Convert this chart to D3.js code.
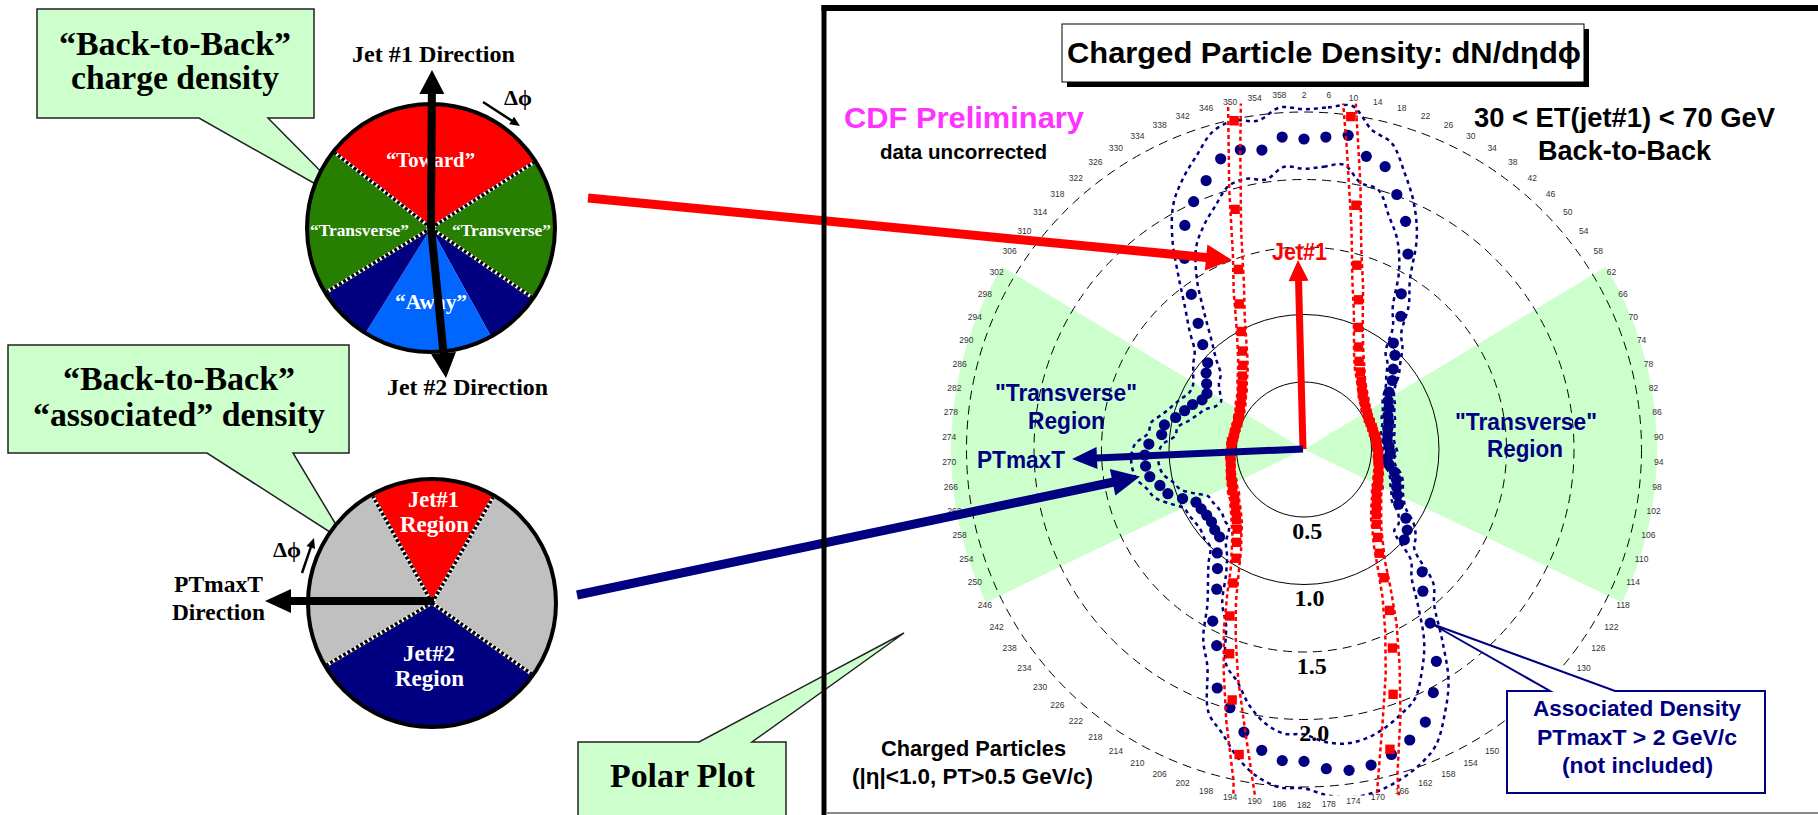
<!DOCTYPE html>
<html>
<head>
<meta charset="utf-8">
<script src="https://d3js.org/d3.v7.min.js"></script>
<style>
  body { margin: 0; background: #fff; }
  svg { display: block; }
</style>
</head>
<body>
<script>
/* ------------------------------- chart data ------------------------------- */
// azimuth bins (deg), one label every 4 deg
const phiLabels = [2,6,10,14,18,22,26,30,34,38,42,46,50,54,58,62,66,70,74,78,
  82,86,90,94,98,102,106,110,114,118,122,126,130,134,138,142,146,150,154,158,
  162,166,170,174,178,182,186,190,194,198,202,206,210,214,218,222,226,230,234,238,
  242,246,250,254,258,262,266,270,274,278,282,286,290,294,298,302,306,310,314,318,
  322,326,330,334,338,342,346,350,354,358];

// associated density (blue dots)
const assocDensity = [2.30,2.32,2.35,2.22,2.18,2.01,1.85,1.64,1.36,1.22,
  1.03,0.97,0.89,0.83,0.76,0.72,0.70,0.67,0.66,0.64,
  0.63,0.62,0.63,0.64,0.62,0.64,0.69,0.72,0.74,0.77,
  0.81,0.91,0.97,1.00,1.26,1.37,1.59,1.85,2.04,2.21,
  2.29,2.35,2.39,2.40,2.37,2.31,2.31,2.25,2.14,1.99,
  1.88,1.59,1.44,1.22,1.09,1.00,0.90,0.89,0.87,0.87,
  0.88,0.89,0.97,1.06,1.10,1.16,1.18,1.18,1.15,1.06,
  1.05,0.98,0.93,0.89,0.84,0.83,0.87,0.92,0.96,1.08,
  1.22,1.42,1.67,1.88,2.01,2.12,2.24,2.27,2.24,2.32];
const assocErr = [.22,.22,.22,.20,.18,.17,.15,.14,.12,.10,
  .09,.08,.07,.06,.05,.05,.05,.05,.05,.05,
  .05,.05,.05,.05,.05,.05,.05,.05,.05,.05,
  .06,.07,.08,.10,.12,.13,.15,.17,.18,.19,
  .20,.20,.20,.20,.20,.20,.20,.20,.20,.20,
  .19,.17,.15,.13,.12,.10,.10,.10,.10,.10,
  .10,.10,.10,.10,.10,.10,.10,.10,.10,.10,
  .10,.10,.10,.10,.11,.12,.12,.12,.13,.14,
  .15,.16,.17,.18,.19,.20,.21,.22,.22,.22];

// charged particle density (red squares)
const chgDensity = [6.0,4.0,2.49,1.85,1.42,1.18,0.99,0.86,0.77,0.71,
  0.66,0.62,0.59,0.57,0.55,0.54,0.53,0.53,0.53,0.53,
  0.54,0.54,0.54,0.55,0.55,0.56,0.57,0.58,0.59,0.61,
  0.62,0.65,0.68,0.72,0.77,0.85,0.95,1.12,1.35,1.61,
  1.93,2.31,3.2,4.5,6.5,6.5,4.5,3.2,2.31,1.93,
  1.61,1.35,1.12,0.95,0.85,0.77,0.72,0.68,0.65,0.62,
  0.61,0.59,0.58,0.57,0.56,0.55,0.55,0.54,0.54,0.54,
  0.53,0.53,0.53,0.53,0.54,0.55,0.57,0.59,0.62,0.66,
  0.71,0.77,0.86,0.99,1.18,1.42,1.85,2.49,4.0,6.0];
const chgErr = [1.0,0.7,0.22,0.16,0.12,0.10,0.08,0.07,0.06,0.05,
  0.04,0.04,0.04,0.035,0.035,0.03,0.03,0.03,0.03,0.03,
  0.03,0.03,0.03,0.03,0.03,0.03,0.03,0.035,0.035,0.04,
  0.04,0.04,0.045,0.05,0.055,0.06,0.07,0.09,0.11,0.13,
  0.16,0.2,0.6,0.8,1.0,1.0,0.8,0.6,0.2,0.16,
  0.13,0.11,0.09,0.07,0.06,0.055,0.05,0.045,0.04,0.04,
  0.04,0.035,0.035,0.03,0.03,0.03,0.03,0.03,0.03,0.03,
  0.03,0.03,0.03,0.03,0.035,0.035,0.04,0.04,0.04,0.05,
  0.05,0.06,0.07,0.08,0.10,0.12,0.16,0.22,0.7,1.0];

const rTicks = [0.5, 1.0, 1.5, 2.0, 2.5];
const rTickLabels = ["0.5", "1.0", "1.5", "2.0"];

/* ------------------------------- svg setup -------------------------------- */
const width = 1818, height = 815;
const svg = d3.select("body").append("svg").attr("width", width).attr("height", height);
svg.append("rect").attr("width", width).attr("height", height).attr("fill", "#fff");

const SERIF = "'Liberation Serif','Times New Roman',serif";
const SANS = "'Liberation Sans',Arial,sans-serif";
const NAVY = "#000080";
const rad = d => d * Math.PI / 180;

function text(g, s, x1, x2, y, size, family, fill) {
  return g.append("text")
    .attr("x", (x1 + x2) / 2).attr("y", y)
    .attr("text-anchor", "middle")
    .attr("font-family", family).attr("font-weight", "bold")
    .attr("font-size", size).attr("fill", fill)
    .attr("textLength", x2 - x1).attr("lengthAdjust", "spacingAndGlyphs")
    .text(s);
}

// block arrow as a polygon
function arrow(g, x1, y1, x2, y2, sw, hl, hw, fill) {
  const L = Math.hypot(x2 - x1, y2 - y1), ux = (x2 - x1) / L, uy = (y2 - y1) / L;
  const nx = -uy, ny = ux, bx = x2 - ux * hl, by = y2 - uy * hl;
  const p = [[x1 + nx * sw / 2, y1 + ny * sw / 2], [bx + nx * sw / 2, by + ny * sw / 2],
    [bx + nx * hw / 2, by + ny * hw / 2], [x2, y2], [bx - nx * hw / 2, by - ny * hw / 2],
    [bx - nx * sw / 2, by - ny * sw / 2], [x1 - nx * sw / 2, y1 - ny * sw / 2]];
  g.append("path").attr("d", "M" + p.join("L") + "Z").attr("fill", fill);
}

// callout box with pointer
function callout(g, x0, y0, x1, y1, side, pa, pb, tip, fill, stroke, sw) {
  let d;
  if (side === "bottom")
    d = `M${x0},${y0}H${x1}V${y1}H${pb}L${tip[0]},${tip[1]}L${pa},${y1}H${x0}Z`;
  else
    d = `M${x0},${y1}V${y0}H${pa}L${tip[0]},${tip[1]}L${pb},${y0}H${x1}V${y1}Z`;
  g.append("path").attr("d", d).attr("fill", fill).attr("stroke", stroke).attr("stroke-width", sw);
}

/* ------------------------------- polar plot ------------------------------- */
const cx = 1304, cy = 449.5, rot = -2;
const r = d3.scaleLinear().domain([0, 2.5]).range([0, 337.5]);
const ang = L => rad(L + rot);
const pol = svg.append("g").attr("transform", `translate(${cx},${cy})`);

// transverse regions
const wedge = d3.arc().innerRadius(0).outerRadius(353);
[[58.8, 115.7], [244.3, 301.2]].forEach(w =>
  pol.append("path").attr("d", wedge({ startAngle: rad(w[0]), endAngle: rad(w[1]) }))
    .attr("fill", "#ccffcc"));

// radial grid
pol.selectAll(".grid").data(rTicks).enter().append("circle")
  .attr("r", d => r(d)).attr("fill", "none").attr("stroke", "#000").attr("stroke-width", 1)
  .attr("stroke-dasharray", d => d > 1 ? "9,6" : null);

// angle labels
pol.selectAll(".alab").data(phiLabels).enter().append("text")
  .attr("x", d => 355 * Math.sin(ang(d))).attr("y", d => -355 * Math.cos(ang(d)))
  .attr("text-anchor", "middle").attr("dominant-baseline", "central")
  .attr("font-family", SANS).attr("font-size", 8.5).attr("fill", "#333")
  .text(d => d);

// data
const rows = phiLabels.map((L, i) => ({ L, b: assocDensity[i], be: assocErr[i], c: chgDensity[i], ce: chgErr[i] }));
svg.append("clipPath").attr("id", "clipPolar").append("rect")
  .attr("x", -360).attr("y", -346).attr("width", 720).attr("height", 692);
const data = pol.append("g").attr("clip-path", "url(#clipPolar)");

const band = (f, curve) => d3.lineRadial().angle(d => ang(d.L)).radius(d => r(f(d))).curve(curve);
[d => d.b - d.be, d => d.b + d.be].forEach(f =>
  data.append("path").attr("d", band(f, d3.curveCatmullRomClosed)(rows))
    .attr("fill", "none").attr("stroke", NAVY).attr("stroke-width", 2.5).attr("stroke-dasharray", "4,4"));

data.selectAll(".dot").data(rows).enter().append("circle")
  .attr("cx", d => r(d.b) * Math.sin(ang(d.L))).attr("cy", d => -r(d.b) * Math.cos(ang(d.L)))
  .attr("r", 5.6).attr("fill", NAVY);

[d => d.c - d.ce, d => d.c + d.ce].forEach(f =>
  data.append("path").attr("d", band(f, d3.curveLinearClosed)(rows))
    .attr("fill", "none").attr("stroke", "#ff0000").attr("stroke-width", 2.5).attr("stroke-dasharray", "4,3"));

const sq = d3.symbol().type(d3.symbolSquare).size(88);
data.selectAll(".sq").data(rows).enter().append("path")
  .attr("d", sq)
  .attr("transform", d => `translate(${r(d.c) * Math.sin(ang(d.L))},${-r(d.c) * Math.cos(ang(d.L))})`)
  .attr("fill", "#ff0000");

// radial tick labels along the 178 deg direction
pol.selectAll(".rlab").data(rTickLabels).enter().append("text")
  .attr("x", (d, i) => (r(rTicks[i]) + 22) * Math.sin(rad(178)))
  .attr("y", (d, i) => -(r(rTicks[i]) + 22) * Math.cos(rad(178)))
  .attr("text-anchor", "middle").attr("font-family", SERIF).attr("font-weight", "bold")
  .attr("font-size", 24).text(d => d);

// jet and PTmaxT arrows
arrow(svg, 1303, 449, 1298, 260, 7, 21, 20, "#ff0000");
arrow(svg, 1303, 449, 1072, 459, 7, 25, 22, NAVY);

// polar texts
text(svg, "Jet#1", 1272, 1327, 260, 24, SANS, "#ff0000");
text(svg, "\"Transverse\"", 995, 1137, 401, 23, SANS, NAVY);
text(svg, "Region", 1028, 1105, 429, 23, SANS, NAVY);
text(svg, "PTmaxT", 977, 1065, 468, 23, SANS, NAVY);
text(svg, "\"Transverse\"", 1455, 1597, 430, 23, SANS, NAVY);
text(svg, "Region", 1487, 1563, 457, 23, SANS, NAVY);

// title box
svg.append("rect").attr("x", 1067).attr("y", 29).attr("width", 522).attr("height", 58).attr("fill", "#000");
svg.append("rect").attr("x", 1062).attr("y", 24).attr("width", 522).attr("height", 58)
  .attr("fill", "#fff").attr("stroke", "#000").attr("stroke-width", 1);
text(svg, "Charged Particle Density: dN/dηdϕ", 1067, 1581, 63, 30, SANS, "#000");

text(svg, "CDF Preliminary", 844, 1084, 128, 29, SANS, "#ff33ff");
text(svg, "data uncorrected", 880, 1047, 159, 21, SANS, "#000");
text(svg, "30 < ET(jet#1) < 70 GeV", 1474, 1775, 127, 28, SANS, "#000");
text(svg, "Back-to-Back", 1538, 1711, 160, 28, SANS, "#000");
text(svg, "Charged Particles", 881, 1066, 756, 22, SANS, "#000");
text(svg, "(|η|<1.0, PT>0.5 GeV/c)", 852, 1093, 784, 22, SANS, "#000");

// associated density box
callout(svg, 1507, 691, 1765, 793, "top", 1550, 1615, [1432, 624], "#fff", NAVY, 2);
text(svg, "Associated Density", 1533, 1741, 716, 22, SANS, NAVY);
text(svg, "PTmaxT > 2 GeV/c", 1537, 1737, 745, 22, SANS, NAVY);
text(svg, "(not included)", 1562, 1713, 773, 22, SANS, NAVY);

/* ------------------------------- left panel ------------------------------- */
// top callout
callout(svg, 37, 9, 314, 118, "bottom", 199, 268, [356, 207], "#ccffcc", "#222", 1.5);
text(svg, "“Back-to-Back”", 59, 291, 55, 34, SERIF, "#000");
text(svg, "charge density", 71, 279, 89, 34, SERIF, "#000");

// top pie
const p1 = svg.append("g").attr("transform", "translate(431,228)");
const pie = d3.arc().innerRadius(0).outerRadius(124);
const sectors1 = [[-52, 57.5, "#ff0000"], [57.5, 124.5, "#267f00"], [124.5, 151, NAVY],
  [151, 212, "#0066ff"], [212, 238.5, NAVY], [238.5, 308, "#267f00"]];
sectors1.forEach(s => p1.append("path").attr("d", pie({ startAngle: rad(s[0]), endAngle: rad(s[1]) })).attr("fill", s[2]));
function divider(g, a, R) {
  const x = R * Math.sin(rad(a)), y = -R * Math.cos(rad(a));
  g.append("line").attr("x2", x).attr("y2", y).attr("stroke", "#fff").attr("stroke-width", 3.5);
  g.append("line").attr("x2", x).attr("y2", y).attr("stroke", "#000").attr("stroke-width", 3.5).attr("stroke-dasharray", "3,2");
}
[-52, 57.5, 124.5, 238.5].forEach(a => divider(p1, a, 122));
p1.append("circle").attr("r", 124).attr("fill", "none").attr("stroke", "#000").attr("stroke-width", 4);

text(svg, "“Toward”", 386, 475, 167, 20, SERIF, "#fff");
text(svg, "“Transverse”", 310, 409, 236, 17, SERIF, "#fff");
text(svg, "“Transverse”", 452, 551, 236, 17, SERIF, "#fff");
text(svg, "“Away”", 395, 467, 309, 21, SERIF, "#fff");
arrow(svg, 431, 228, 432, 70, 8, 24, 25, "#000");
arrow(svg, 431, 228, 446, 378, 8, 25, 25, "#000");
text(svg, "Jet #1 Direction", 352, 515, 62, 24, SERIF, "#000");
text(svg, "Jet #2 Direction", 387, 548, 395, 24, SERIF, "#000");
arrow(svg, 483, 102, 520, 126, 2.5, 10, 9, "#000");
text(svg, "Δϕ", 504, 532, 105, 22, SERIF, "#000");

// bottom callout
callout(svg, 8, 345, 349, 453, "bottom", 207, 293, [347, 543], "#ccffcc", "#222", 1.5);
text(svg, "“Back-to-Back”", 63, 295, 390, 34, SERIF, "#000");
text(svg, "“associated” density", 33, 325, 426, 34, SERIF, "#000");

// bottom pie
const p2 = svg.append("g").attr("transform", "translate(432,603)");
const sectors2 = [[-29, 30, "#ff0000"], [30, 125.5, "#c0c0c0"], [125.5, 239.5, NAVY], [239.5, 331, "#c0c0c0"]];
sectors2.forEach(s => p2.append("path").attr("d", pie({ startAngle: rad(s[0]), endAngle: rad(s[1]) })).attr("fill", s[2]));
[-29, 30, 125.5, 239.5].forEach(a => divider(p2, a, 122));
p2.append("circle").attr("r", 124).attr("fill", "none").attr("stroke", "#000").attr("stroke-width", 4);
text(svg, "Jet#1", 408, 459, 507, 23, SERIF, "#fff");
text(svg, "Region", 400, 469, 532, 23, SERIF, "#fff");
text(svg, "Jet#2", 403, 455, 661, 23, SERIF, "#fff");
text(svg, "Region", 395, 464, 686, 23, SERIF, "#fff");
arrow(svg, 434, 601, 265, 601, 8, 26, 24, "#000");
text(svg, "PTmaxT", 174, 263, 592, 23, SERIF, "#000");
text(svg, "Direction", 172, 265, 620, 23, SERIF, "#000");
arrow(svg, 302, 573, 314, 538, 2.5, 10, 9, "#000");
text(svg, "Δϕ", 273, 301, 557, 22, SERIF, "#000");

// polar plot callout
callout(svg, 578, 742, 786, 830, "top", 699, 752, [904, 633], "#ccffcc", "#222", 1.5);
text(svg, "Polar Plot", 610, 755, 787, 34, SERIF, "#000");

// connecting arrows
arrow(svg, 588, 198, 1232, 260, 9, 26, 26, "#ff0000");
arrow(svg, 577, 595, 1140, 476.5, 9, 28, 27, NAVY);

/* --------------------------------- frame ---------------------------------- */
svg.append("line").attr("x1", 824).attr("y1", 5).attr("x2", 824).attr("y2", 815).attr("stroke", "#000").attr("stroke-width", 5);
svg.append("line").attr("x1", 821.5).attr("y1", 8).attr("x2", 1818).attr("y2", 8).attr("stroke", "#000").attr("stroke-width", 6);
svg.append("line").attr("x1", 826).attr("y1", 813).attr("x2", 1818).attr("y2", 813).attr("stroke", "#888").attr("stroke-width", 2);
</script>
</body>
</html>
